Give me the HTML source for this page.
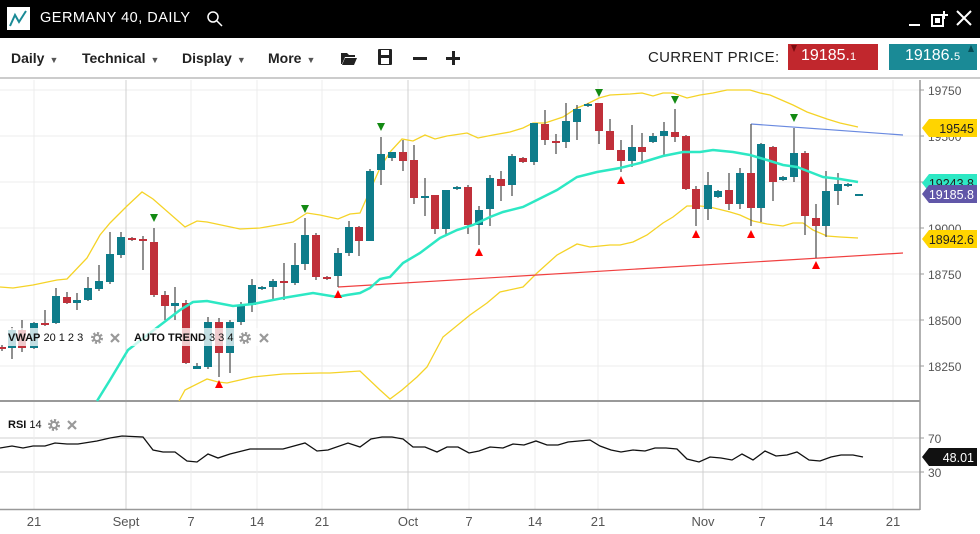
<!DOCTYPE html>
<html><head><meta charset="utf-8"><style>
*{margin:0;padding:0;box-sizing:border-box}
body{width:980px;height:534px;overflow:hidden;background:#fff;font-family:"Liberation Sans",sans-serif;position:relative}
.hdr{position:absolute;left:0;top:0;width:980px;height:38px;background:#000}
.tb{position:absolute;left:0;top:38px;width:980px;height:41px;background:#fff;border-bottom:2px solid #ccc}
.t{position:absolute;white-space:nowrap}
.menu{font-size:14px;font-weight:bold;color:#222;top:12px}
.menu span{font-size:9px;color:#555;margin-left:5px}
</style></head><body>
<div class="hdr">
 <div style="position:absolute;left:7px;top:7px;width:23px;height:23px;background:#fff"></div>
 <svg style="position:absolute;left:7px;top:7px" width="23" height="23"><polyline points="3,19 8,8 12,15 19,4" fill="none" stroke="#1a8a96" stroke-width="2"/></svg>
 <div class="t" style="left:40px;top:10px;color:#fff;font-size:14.5px;letter-spacing:0.5px">GERMANY 40, DAILY</div>
 <svg style="position:absolute;left:206px;top:10px" width="18" height="18"><circle cx="7" cy="7" r="5" fill="none" stroke="#fff" stroke-width="1.5"/><line x1="11" y1="11" x2="16" y2="16" stroke="#fff" stroke-width="1.5"/></svg>
 <div style="position:absolute;left:909px;top:24px;width:11px;height:2px;background:#fff"></div>
 <svg style="position:absolute;left:930px;top:9px" width="20" height="20"><rect x="2" y="6" width="11" height="11" fill="none" stroke="#fff" stroke-width="2"/><rect x="5" y="9" width="5" height="5" fill="#fff"/><path d="M14 2v8M10 6h8" stroke="#fff" stroke-width="2"/></svg>
 <svg style="position:absolute;left:955px;top:9px" width="18" height="18"><path d="M2 2L16 16M16 2L2 16" stroke="#fff" stroke-width="2"/></svg>
</div>
<div class="tb">
 <div class="t menu" style="left:11px">Daily<span>▼</span></div>
 <div class="t menu" style="left:82px">Technical<span>▼</span></div>
 <div class="t menu" style="left:182px">Display<span>▼</span></div>
 <div class="t menu" style="left:268px">More<span>▼</span></div>
 <svg style="position:absolute;left:340px;top:12px" width="18" height="16"><path d="M1 3h6l2 2h6v2H5L2 14H1z M5 8h12l-3 7H2z" fill="#222"/></svg>
 <svg style="position:absolute;left:377px;top:10px" width="16" height="18"><rect x="1" y="1" width="14" height="16" rx="1" fill="#222"/><rect x="4" y="2" width="8" height="5" fill="#fff"/><rect x="4" y="10" width="8" height="6" fill="#fff"/></svg>
 <div style="position:absolute;left:413px;top:19px;width:14px;height:3px;background:#222"></div>
 <div style="position:absolute;left:446px;top:19px;width:14px;height:3px;background:#222"></div>
 <div style="position:absolute;left:451.5px;top:13px;width:3px;height:14px;background:#222"></div>
 <div class="t" style="left:648px;top:11px;font-size:15px;color:#222;letter-spacing:0.3px">CURRENT PRICE:</div>
 <div style="position:absolute;left:788px;top:6px;width:90px;height:26px;background:#c1272d"></div>
 <div class="t" style="left:801px;top:9px;color:#fff;font-size:16px">19185.<span style="font-size:11px">1</span></div>
 <div style="position:absolute;left:791px;top:7px;width:0;height:0;border-left:3px solid transparent;border-right:3px solid transparent;border-top:7px solid #7a0c10"></div>
 <div style="position:absolute;left:889px;top:6px;width:88px;height:26px;background:#1a8a96"></div>
 <div class="t" style="left:905px;top:9px;color:#fff;font-size:16px">19186.<span style="font-size:11px">5</span></div>
 <div style="position:absolute;left:968px;top:7px;width:0;height:0;border-left:3px solid transparent;border-right:3px solid transparent;border-bottom:7px solid #064c55"></div>
</div>
<svg id="c" style="position:absolute;left:0;top:0" width="980" height="534" font-family="Liberation Sans, sans-serif"></svg>
<script>
const s=document.getElementById('c');let h='';
const L=(a,c,w,extra='')=>`<polyline points="${a.map(p=>p.join(',')).join(' ')}" fill="none" stroke="${c}" stroke-width="${w}" ${extra}/>`;
[90,136,182,228,274,320,366].forEach(y=>h+=`<line x1="0" y1="${y}" x2="920" y2="${y}" stroke="#ececec"/>`);
[438,472].forEach(y=>h+=`<line x1="0" y1="${y}" x2="920" y2="${y}" stroke="#d0d0d0"/>`);
const xs=[34,126,191,257,322,408,469,535,598,703,762,826,893];
xs.forEach((x,i)=>{const m=(i==1||i==5||i==9);h+=`<line x1="${x}" y1="80" x2="${x}" y2="509" stroke="${m?'#d0d0d0':'#ececec'}"/>`});
const lb=['21','Sept','7','14','21','Oct','7','14','21','Nov','7','14','21'];
xs.forEach((x,i)=>h+=`<text x="${x}" y="526" font-size="13" fill="#555" text-anchor="middle">${lb[i]}</text>`);
h+=`<line x1="920" y1="80" x2="920" y2="510" stroke="#999" stroke-width="1.5"/>`;
h+=`<line x1="0" y1="401" x2="920" y2="401" stroke="#999" stroke-width="2"/>`;
h+=`<line x1="0" y1="509.5" x2="920" y2="509.5" stroke="#999" stroke-width="1.5"/>`;
[[19750,90],[19500,136],[19250,182],[19000,228],[18750,274],[18500,320],[18250,366]].forEach(([v,y])=>{h+=`<line x1="920" y1="${y}" x2="924" y2="${y}" stroke="#999"/><text x="928" y="${y+5}" font-size="12" fill="#555">${v}</text>`});
[[70,438],[30,472]].forEach(([v,y])=>h+=`<line x1="920" y1="${y}" x2="924" y2="${y}" stroke="#999"/><text x="928" y="${y+5}" font-size="12" fill="#555">${v}</text>`);
const up=[[0,287],[13,288],[33,285],[57,280],[67,279],[87,258],[100,235],[110,223],[127,206],[142,192],[153,199],[185,227],[197,221],[207,222],[240,229],[260,228],[283,224],[293,222],[307,213],[320,215],[338,219],[350,214],[360,213],[380,168],[390,152],[402,139],[413,141],[425,135],[435,139],[447,136],[467,133],[478,138],[493,135],[510,132],[523,128],[533,123],[545,123],[563,117],[577,108],[587,104],[599,98],[610,95],[630,94],[642,93],[653,96],[663,93],[673,93],[687,98],[700,95],[713,93],[727,90],[750,90],[760,93],[770,95],[793,105],[807,112],[827,119],[840,123],[858,127]];
const lo=[[179,401],[185,390],[207,379],[218,382],[227,383],[253,377],[283,374],[320,373],[330,373],[360,371],[380,390],[390,399],[402,390],[417,377],[427,367],[443,337],[470,315],[487,303],[500,292],[523,287],[537,273],[557,255],[577,244],[590,247],[610,245],[620,245],[633,242],[647,235],[663,223],[673,217],[687,206],[700,206],[710,207],[730,212],[740,215],[753,221],[767,224],[783,226],[793,223],[803,223],[813,230],[827,236],[840,237],[858,238]];
const ma=[[97,401],[110,380],[128,350],[150,333],[180,310],[193,302],[207,301],[233,306],[253,304],[283,298],[313,293],[337,297],[347,295],[360,293],[370,288],[380,279],[390,277],[403,263],[420,253],[440,238],[457,230],[473,225],[490,217],[503,212],[523,207],[537,200],[557,190],[577,177],[597,172],[620,168],[640,163],[663,156],[683,152],[700,152],[713,150],[733,152],[750,155],[767,160],[783,165],[797,167],[810,172],[823,177],[840,179],[858,182]];
h+=L(up,'#f5d327',1.3)+L(lo,'#f5d327',1.3);
h+=`<line x1="338" y1="287" x2="903" y2="253" stroke="#f04040" stroke-width="1.2"/>`;
h+=`<line x1="751" y1="124" x2="903" y2="135" stroke="#6a8ae0" stroke-width="1.2"/>`;
const T='#0e7c8a',R='#c0303a';
const C=[[2,347,349,345,351,R],[12,330,348,327,359,T],[22,330,348,320,352,R],[34,323,348,322,349,T],[45,323,325,310,326,R],[56,296,323,288,324,T],[67,297,303,292,304,R],[77,300,303,293,310,T],[88,288,300,277,301,T],[99,281,289,265,291,T],[110,254,282,232,284,T],[121,237,255,232,258,T],[132,238,240,237,241,R],[143,239,241,236,270,R],[154,242,295,228,297,R],[165,295,306,291,320,R],[175,303,306,287,320,T],[186,303,363,300,364,R],[197,366,369,363,369,T],[208,322,367,317,369,T],[219,322,353,318,377,R],[230,322,353,320,373,T],[241,305,322,302,325,T],[252,285,305,279,312,T],[262,287,289,286,290,T],[273,281,287,279,300,T],[284,281,283,263,300,R],[295,265,283,243,285,T],[305,235,264,218,270,T],[316,235,277,233,280,R],[327,277,279,276,280,R],[338,253,276,248,287,T],[349,227,253,221,256,T],[359,227,241,226,256,R],[370,171,241,169,241,T],[381,154,170,137,185,T],[392,152,158,152,161,T],[403,152,161,140,171,R],[414,160,198,145,204,R],[425,196,198,178,216,T],[435,195,229,195,234,R],[446,190,229,190,236,T],[457,187,189,186,190,T],[468,187,225,185,234,R],[479,210,225,206,245,T],[490,178,209,175,226,T],[501,179,186,171,201,R],[512,156,185,154,196,T],[523,158,162,157,163,R],[534,123,162,123,165,T],[545,124,140,110,145,R],[556,141,143,134,154,R],[566,121,142,103,148,T],[577,109,122,105,140,T],[588,104,106,103,107,T],[599,103,131,103,144,R],[610,131,150,119,150,R],[621,150,161,140,172,R],[632,147,161,125,167,T],[642,147,152,133,163,R],[653,136,142,133,143,T],[664,131,136,122,155,T],[675,132,137,109,142,R],[686,136,189,135,190,R],[696,189,209,186,226,R],[708,185,209,172,220,T],[718,191,197,190,198,T],[729,190,204,173,210,R],[740,173,204,168,209,T],[751,173,208,124,226,R],[761,144,208,143,222,T],[773,147,182,146,201,R],[783,177,180,176,181,T],[794,153,177,128,182,T],[805,153,216,151,235,R],[816,218,226,204,258,R],[826,191,226,171,237,T],[838,184,191,173,205,T],[848,184,186,183,187,T],[859,194,196,194,196,T]];
C.forEach(([x,a,b,c,d,col])=>{h+=`<line x1="${x}" y1="${c}" x2="${x}" y2="${d}" stroke="#555" stroke-width="1.3"/><rect x="${x-4}" y="${a}" width="8" height="${Math.max(b-a,2)}" fill="${col}"/>`});
h+=L(ma,'#2de8c4',2.5);
[[154,218],[305,209],[381,127],[599,93],[675,100],[794,118]].forEach(([x,y])=>h+=`<polygon points="${x-4},${y-4} ${x+4},${y-4} ${x},${y+4}" fill="#138a13"/>`);
[[219,384],[338,294],[479,252],[621,180],[696,234],[751,234],[816,265]].forEach(([x,y])=>h+=`<polygon points="${x-4},${y+4} ${x+4},${y+4} ${x},${y-4}" fill="#f00"/>`);
const tag=(y,bg,fg,t)=>`<polygon points="922,${y} 929,${y-9} 977,${y-9} 977,${y+9} 929,${y+9}" fill="${bg}"/><text x="974" y="${y+5}" font-size="12.5" fill="${fg}" text-anchor="end">${t}</text>`;
h+=tag(128,'#ffd400','#222','19545')+tag(183,'#2de8c4','#222','19243.8')+tag(194,'#6157a8','#fff','19185.8')+tag(239,'#ffd400','#222','18942.6')+tag(457,'#111','#fff','48.01');
const rsi=[[0,448],[12,446],[23,448],[33,446],[45,446],[55,443],[67,444],[78,444],[97,441],[110,438],[122,436],[143,437],[153,450],[163,452],[175,452],[187,461],[197,462],[208,454],[218,458],[230,454],[250,449],[267,449],[283,449],[305,443],[317,451],[328,450],[348,443],[360,447],[371,439],[382,437],[392,437],[403,439],[413,447],[425,447],[437,452],[447,447],[458,447],[469,453],[479,451],[490,447],[503,448],[513,444],[524,445],[536,441],[547,445],[558,445],[568,442],[579,441],[590,440],[600,446],[611,450],[621,452],[633,450],[645,451],[655,448],[666,448],[677,449],[687,459],[699,462],[710,457],[721,458],[732,460],[742,454],[753,460],[765,451],[776,456],[787,455],[797,452],[809,460],[820,461],[831,457],[841,455],[853,455],[863,457]];
h+=L(rsi,'#111',1.3);
h+=`<rect x="4" y="328" width="120" height="18" fill="#fff" opacity="0.75"/><rect x="130" y="328" width="140" height="18" fill="#fff" opacity="0.75"/>`;
const gear=(x,y)=>`<circle cx="${x}" cy="${y}" r="4.5" fill="none" stroke="#999" stroke-width="3" stroke-dasharray="2 1.5"/><circle cx="${x}" cy="${y}" r="3" fill="none" stroke="#999" stroke-width="2"/>`;
const xx=(x,y)=>`<path d="M${x-4} ${y-4}L${x+4} ${y+4}M${x+4} ${y-4}L${x-4} ${y+4}" stroke="#999" stroke-width="2.2"/>`;
h+=`<text x="8" y="341" font-size="11" fill="#111"><tspan font-weight="bold">VWAP</tspan> 20 1 2 3</text>`+gear(97,338)+xx(115,338);
h+=`<text x="134" y="341" font-size="11" fill="#111"><tspan font-weight="bold">AUTO TREND</tspan> 3 3 4</text>`+gear(245,338)+xx(264,338);
h+=`<text x="8" y="428" font-size="11" fill="#111"><tspan font-weight="bold">RSI</tspan> 14</text>`+gear(54,425)+xx(72,425);
s.innerHTML=h;
</script>
</body></html>
